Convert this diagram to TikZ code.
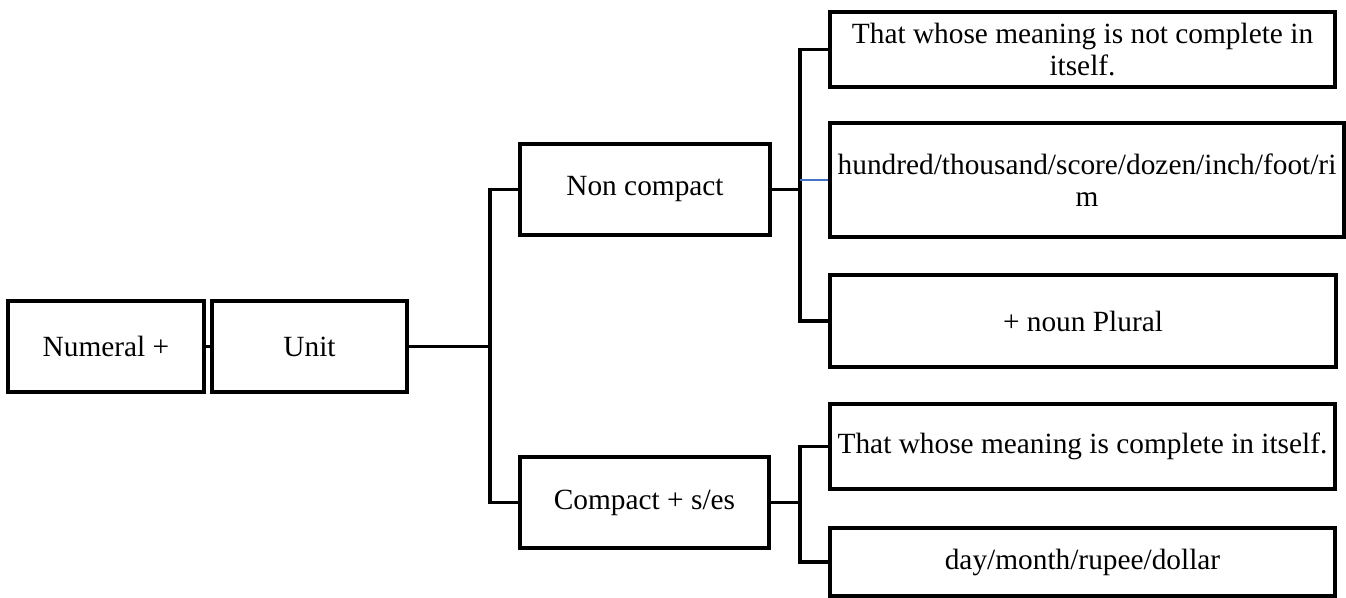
\documentclass[tikz,border=0pt]{standalone}
\usepackage{fontspec}
\setmainfont{Liberation Serif}
\definecolor{linkblue}{RGB}{68,114,196}

\begin{document}
\begin{tikzpicture}[x=0.02cm, y=-0.02cm, line width=2pt,
        box/.style={draw, inner sep=0pt, align=center, font=\fontsize{16.7}{18.5}\selectfont},
        bluelink/.style={line width=1.1pt, draw=linkblue}]
        \useasboundingbox (0,0) rectangle (1346,598);

        \node[box, minimum width=3.92cm, minimum height=1.82cm] (numeral) at (106,346.5) {Numeral +};
        \node[box, minimum width=3.9cm, minimum height=1.82cm] (unit) at (309.5,346.5) {Unit};

        \node[box, minimum width=5cm, minimum height=1.82cm] (noncompact) at (645,189.5) {Non compact};
        \node[box, minimum width=4.98cm, minimum height=1.82cm] (compact) at (644.5,502.5) {Compact + s/es};

        \node[box, minimum width=10.1cm, minimum height=1.5cm] (notcomplete) at (1082.5,49.5) {That whose meaning is not complete in\\itself.};
        \node[box, minimum width=10.28cm, minimum height=2.28cm] (hundred) at (1087,180) {hundred/thousand/score/dozen/inch/foot/ri\\m};
        \node[box, minimum width=10.12cm, minimum height=1.84cm] (plural) at (1083,321) {+ noun Plural};
        \node[box, minimum width=10.1cm, minimum height=1.7cm] (complete) at (1082.5,446.5) {That whose meaning is complete in itself.};
        \node[box, minimum width=10.1cm, minimum height=1.36cm] (day) at (1082.5,562) {day/month/rupee/dollar};

        \coordinate (trunk) at (490,346.5);
        \coordinate (nbranch) at (800,189.5);
        \coordinate (cbranch) at (800,502.5);

        \draw (numeral.east) -- (unit.west);
        \draw (unit.east) -- (trunk);
        \draw (noncompact.west) -| (trunk) |- (compact.west);

        \draw (noncompact.east) -- (nbranch);
        \draw (notcomplete.west) -| (nbranch) |- (plural.west);
        \draw[bluelink] (nbranch |- hundred.west) -- (hundred.west);

        \draw (compact.east) -- (cbranch);
        \draw (complete.west) -| (cbranch) |- (day.west);
\end{tikzpicture}
\end{document}
